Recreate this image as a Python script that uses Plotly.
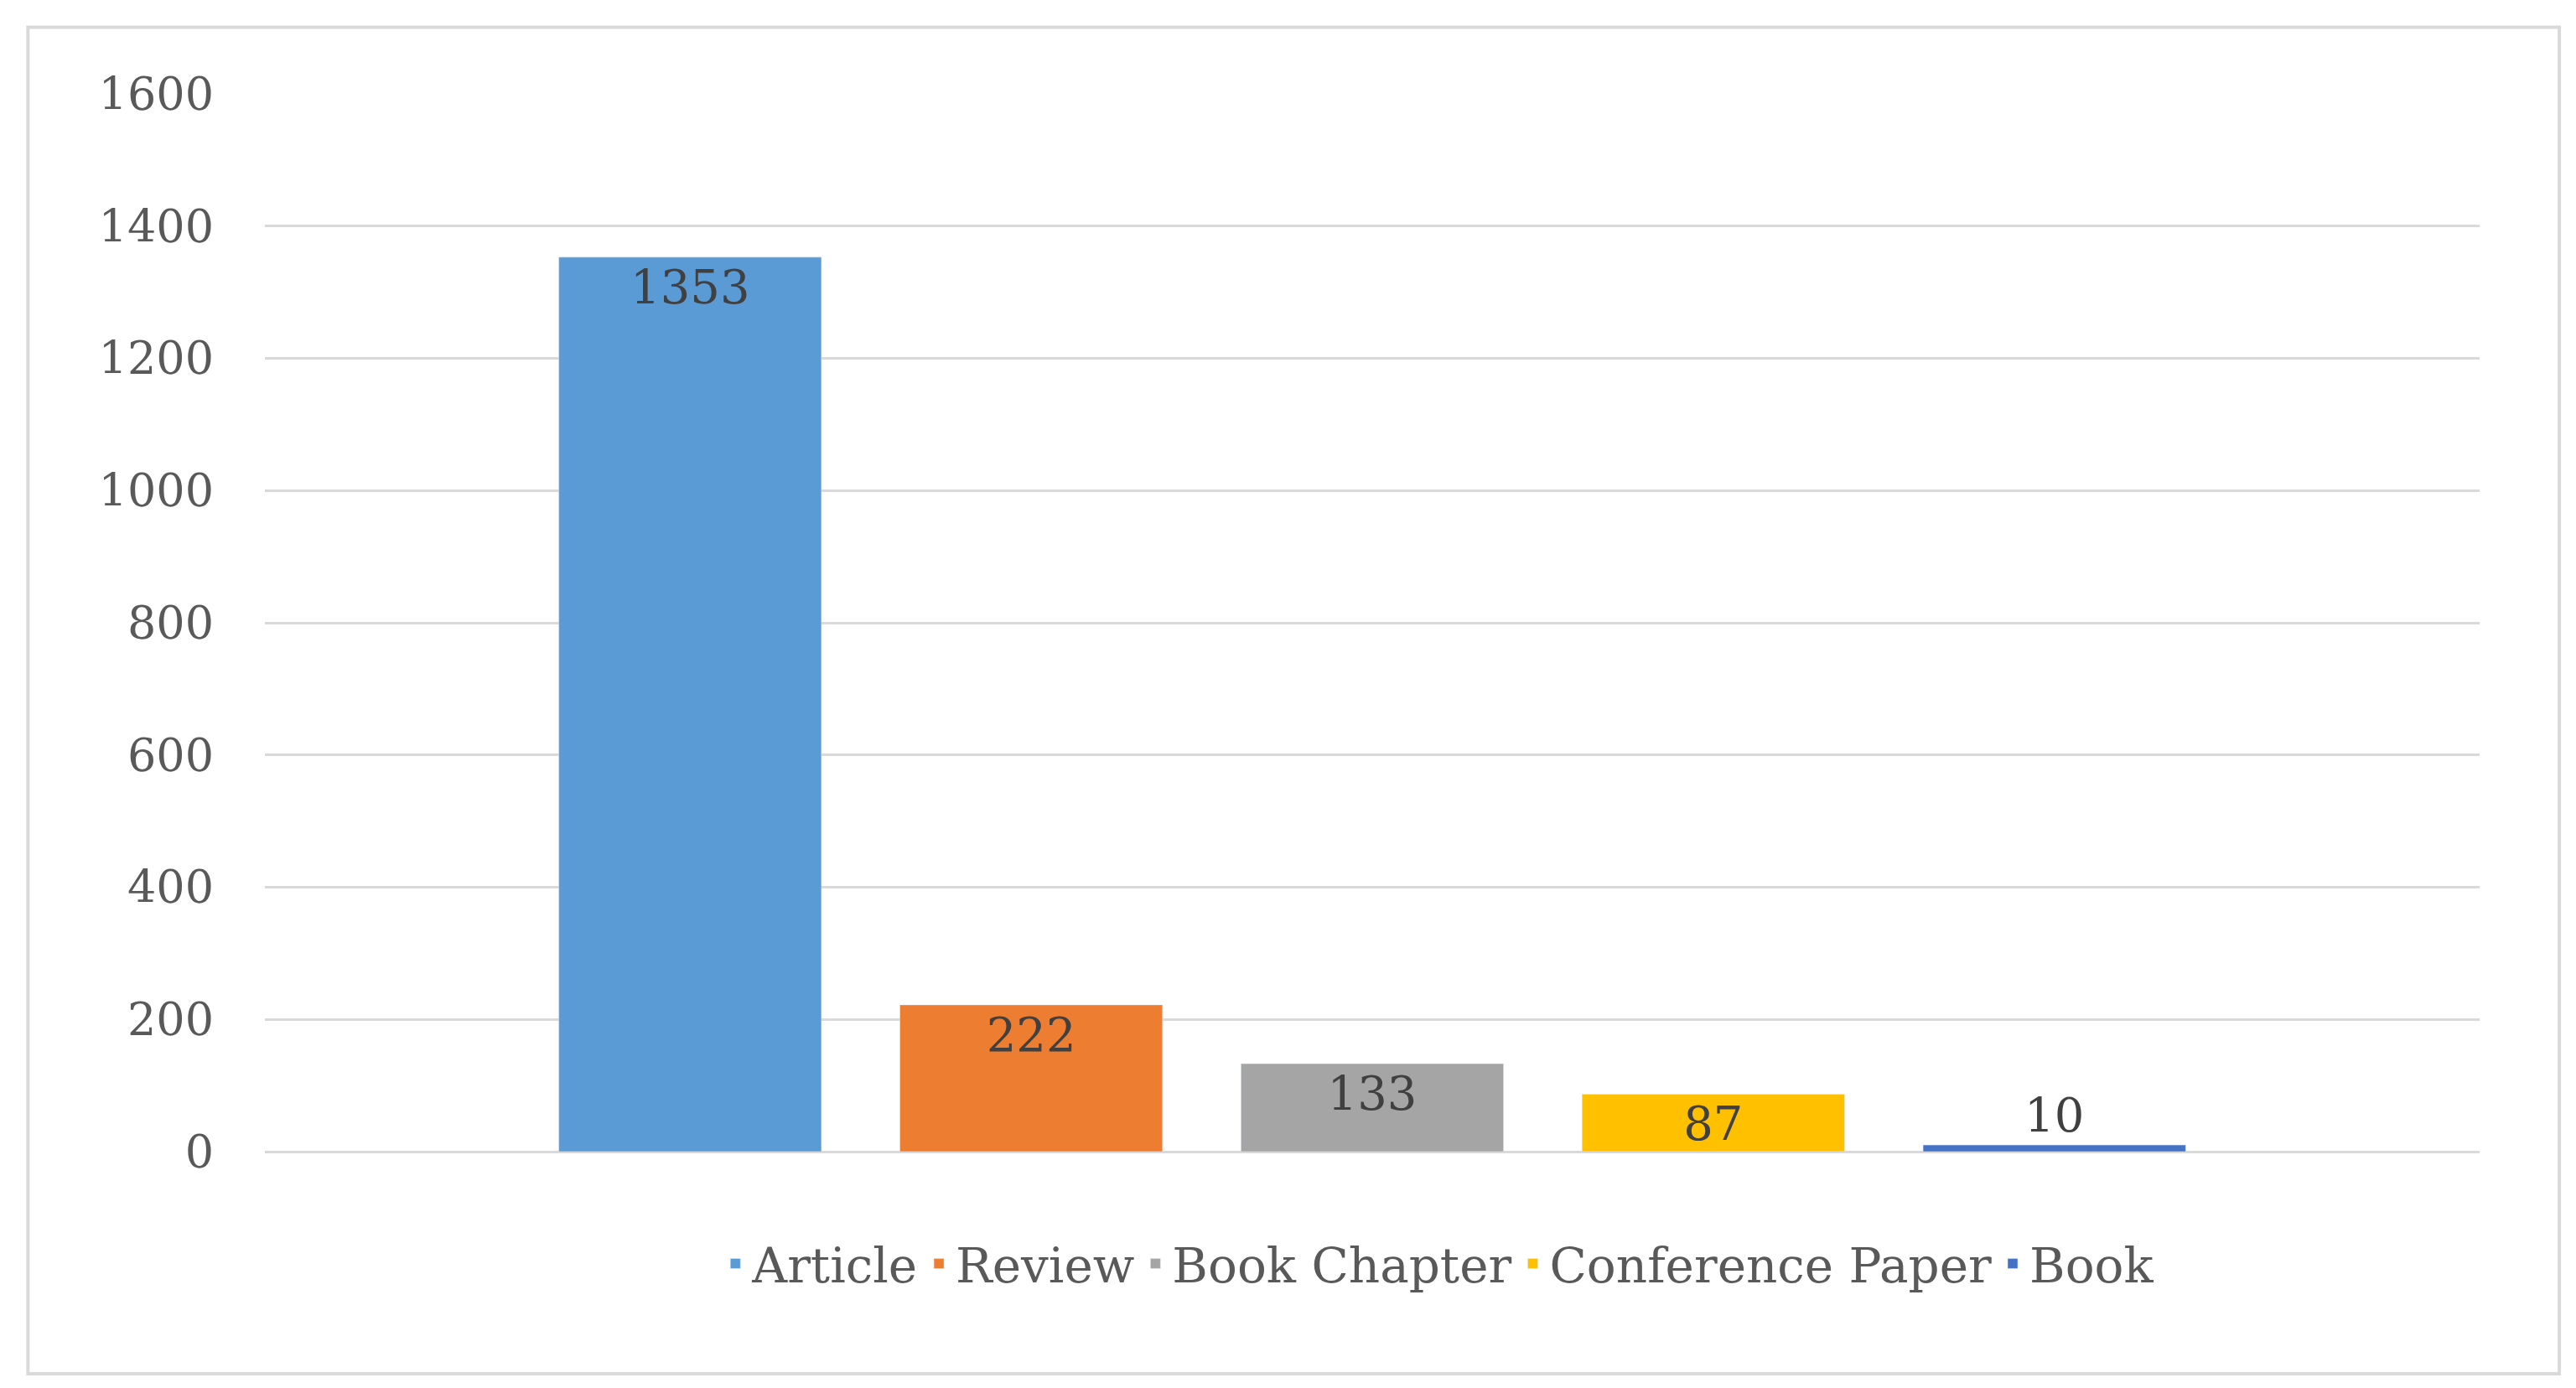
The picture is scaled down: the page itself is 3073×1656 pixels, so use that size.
import plotly.graph_objects as go

categories = ["Article", "Review", "Book Chapter", "Conference Paper", "Book"]
values = [1353, 222, 133, 87, 10]
colors = ["#5B9BD5", "#ED7D31", "#A5A5A5", "#FFC000", "#4472C4"]
positions = ["inside", "inside", "inside", "inside", "outside"]

fig = go.Figure()
for c, v, col, pos in zip(categories, values, colors, positions):
    fig.add_trace(go.Bar(x=[""], y=[v], name=c, marker_color=col, text=[str(v)],
                         textposition=pos, insidetextanchor="end", constraintext="none",
                         cliponaxis=False,
                         textfont=dict(size=56, color="#404040", family="DejaVu Serif")))

fig.update_layout(
    width=3073, height=1656, plot_bgcolor="white", paper_bgcolor="white",
    margin=dict(l=308, r=123, t=104, b=290),
    barmode="group", bargap=0.23, bargroupgap=0.23,
    font=dict(family="DejaVu Serif", size=54, color="#595959"),
    showlegend=True,
    legend=dict(orientation="h", x=0.53, xanchor="center", y=-0.106, yanchor="middle",
                font=dict(size=58, color="#595959"), traceorder="normal"),
    xaxis=dict(showticklabels=False, showline=False),
    yaxis=dict(range=[0, 1600], dtick=200, gridcolor="#d9d9d9", gridwidth=3,
               zeroline=True, zerolinecolor="#d9d9d9", zerolinewidth=3,
               ticks="", ticklen=0, ticklabelstandoff=60),
    shapes=[dict(type="rect", xref="paper", yref="paper", x0=-0.107, x1=1.036,
                 y0=-0.21, y1=1.063, line=dict(color="#d9d9d9", width=4))],
)
fig.write_html("out.html")
